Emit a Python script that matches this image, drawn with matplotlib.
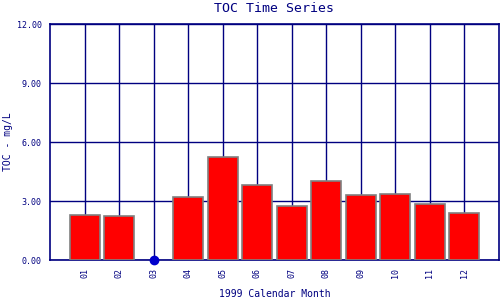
import numpy as np
import matplotlib
matplotlib.use("Agg")
import matplotlib.pyplot as plt

# data
months = ["01", "02", "03", "04", "05", "06", "07", "08", "09", "10", "11", "12"]
toc = [2.29, 2.22, 0.0, 3.19, 5.24, 3.81, 2.73, 4.02, 3.30, 3.36, 2.85, 2.39]
missing = ["03"]
yticks = [0, 3, 6, 9, 12]

navy = "#000080"
plt.rcParams['font.family'] = ['DejaVu Sans Mono']

fig = plt.figure(figsize=(5, 3), dpi=100)
ax = fig.add_axes([0.1, 0.1333, 0.898, 0.7867])

x = np.arange(len(months))
bar_x = [i for i, m in zip(x, months) if m not in missing]
bar_v = [v for v, m in zip(toc, months) if m not in missing]
ax.bar(bar_x, bar_v, width=0.87, color="red", edgecolor="gray", linewidth=1.2, zorder=3)

# missing month shown as a dot on the axis
miss_x = [i for i, m in zip(x, months) if m in missing]
ax.plot(miss_x, [0] * len(miss_x), "o", color="#0000cc", markersize=6, zorder=5, clip_on=False)

ax.set_xlim(-1, 12)
ax.set_ylim(0, 12)
ax.set_xticks(x)
ax.set_xticklabels(months, rotation=90, fontsize=6, color=navy)
ax.set_yticks(yticks)
ax.set_yticklabels(["%.2f" % t for t in yticks], fontsize=6, color=navy)
ax.tick_params(length=0, pad=6)
ax.grid(True, color=navy, linewidth=1, zorder=0)
ax.set_axisbelow(True)
for s in ax.spines.values():
    s.set_color(navy)
    s.set_linewidth(1.2)

ax.set_title("TOC Time Series", fontsize=9.5, color=navy, pad=9)
ax.set_xlabel("1999 Calendar Month", fontsize=7, color=navy)
ax.set_ylabel("TOC - mg/L", fontsize=7, color=navy)
ax.xaxis.set_label_coords(0.5, -0.123)
ax.yaxis.set_label_coords(-0.082, 0.5)

fig.savefig("out.png", dpi=100)
